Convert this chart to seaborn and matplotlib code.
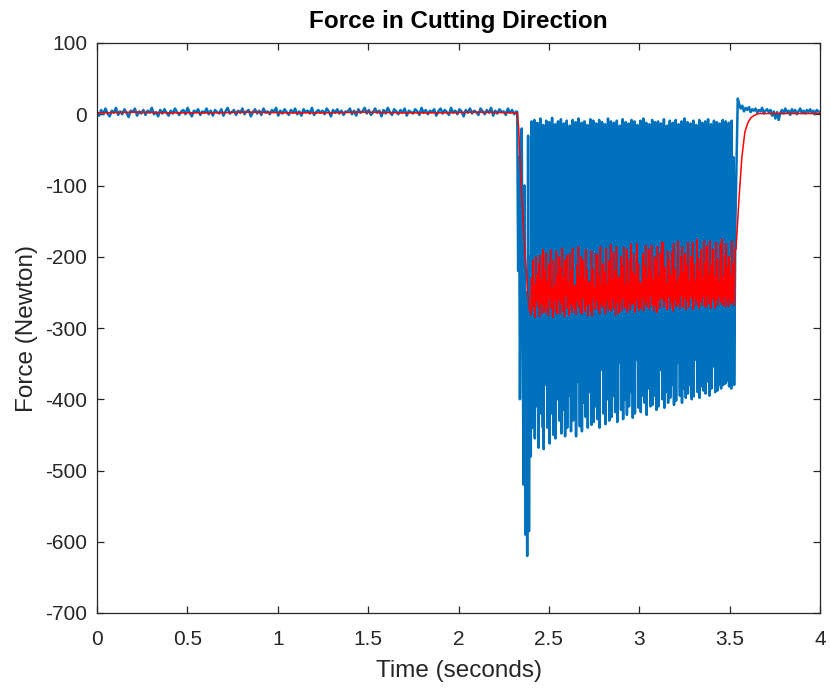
import numpy as np
import pandas as pd
import matplotlib
matplotlib.use("Agg")
import matplotlib.pyplot as plt
import seaborn as sns

# ---- measured force signal (Newton) ----
# idle phase before the cut, 0 s .. 2.32 s
raw_idle = [
    3, -2, 6, 0, 8, 1, -3, 5, 2, 9, -1, 4, 0, 7, 2, -4, 5, 3, 8, -2,
    4, 1, 6, -1, 5, 2, 9, 0, 3, -3, 6, 1, 7, 2, -2, 5, 1, 8, 3, -1,
    4, 6, 0, 9, 2, -3, 5, 3, 7, -1, 4, 2, 8, 0, 5, -2, 6, 3, 1, 7,
    -2, 4, 9, 1, 3, 6, -1, 5, 2, 8, 0, 4, 6, -3, 3, 7, 1, 5, -1, 8,
    2, 4, 0, 6, 3, 9, -2, 5, 1, 7, 3, -1, 6, 2, 8, 0, 4, -2, 7, 3,
    5, 1, 9, -1, 3, 6, 2, 5, 0, 8, 4, -3, 6, 2, 7, 1, 5, -1, 4, 3,
    8, 0, 5, -2, 7, 2, 4, 9, 1, 6, -1, 3, 8, 2, 5, -3, 6, 1, 9, 3,
    -1, 7, 4, 0, 6, 2, 8, -2, 5, 3, 1, 7, 4, -1, 9, 2, 6, 0, 5, 3,
    7, -2, 4, 8, 1, 6, 3, -1, 9, 2, 5, 0, 7, 4, -3, 6, 2, 8, 1, 5,
    3, -1, 8, 4, 0, 6, 2, 9, -2, 5, 1, 7, 3, 4, -1, 8, 2, 6, 0, 4,
]
# tool entry, 2.325 s .. 2.415 s
raw_entry = [3, -220, -60, -400, -150, -20, -300, -520, -100, -590,
             -250, -620, -30, -585, -200, -480, -10, -440, -300]
# steady cutting, one row per tooth pass: (top, low, mid, low, mid, low)
raw_cycles = [
    (-8, -455, -230, -330, -250, -410), (-12, -350, -260, -468, -215, -320),
    (-6, -420, -200, -310, -240, -440), (-15, -470, -250, -340, -205, -380),
    (-9, -330, -210, -440, -265, -360), (-11, -462, -270, -300, -225, -420),
    (-5, -380, -220, -450, -245, -330), (-14, -455, -240, -320, -195, -400),
    (-10, -340, -195, -430, -255, -350), (-7, -448, -265, -360, -210, -415),
    (-13, -310, -215, -452, -240, -335), (-9, -440, -250, -330, -200, -395),
    (-16, -360, -205, -445, -260, -320), (-8, -430, -275, -300, -220, -410),
    (-11, -452, -225, -350, -245, -375), (-6, -320, -245, -438, -205, -340),
    (-12, -445, -200, -370, -255, -405), (-10, -335, -260, -425, -215, -310),
    (-15, -440, -230, -310, -240, -390), (-7, -350, -215, -436, -265, -345),
    (-9, -432, -270, -340, -200, -410), (-13, -300, -205, -428, -235, -365),
    (-8, -440, -250, -360, -215, -320), (-11, -330, -235, -420, -260, -385),
    (-14, -435, -210, -315, -225, -400), (-6, -365, -265, -430, -205, -335),
    (-10, -425, -220, -340, -250, -395), (-12, -310, -245, -418, -210, -350),
    (-9, -432, -200, -350, -240, -310), (-16, -340, -255, -415, -220, -380),
    (-7, -428, -230, -305, -260, -400), (-11, -360, -210, -422, -235, -330),
    (-13, -410, -270, -330, -205, -390), (-8, -325, -225, -426, -250, -355),
    (-10, -420, -250, -345, -215, -305), (-15, -300, -205, -412, -245, -370),
    (-9, -418, -240, -355, -200, -395), (-6, -335, -260, -405, -230, -320),
    (-12, -422, -215, -320, -255, -385), (-14, -350, -235, -410, -210, -340),
    (-8, -408, -270, -340, -240, -395), (-11, -315, -200, -415, -225, -350),
    (-10, -410, -250, -360, -205, -315), (-13, -330, -225, -400, -260, -375),
    (-7, -412, -245, -310, -215, -390), (-16, -345, -210, -405, -245, -330),
    (-9, -398, -265, -335, -200, -380), (-12, -320, -230, -408, -250, -345),
    (-8, -402, -205, -350, -235, -310), (-14, -340, -255, -395, -210, -372),
    (-10, -405, -220, -315, -245, -385), (-6, -355, -240, -398, -205, -335),
    (-11, -392, -200, -330, -260, -380), (-13, -310, -260, -400, -220, -350),
    (-9, -396, -235, -345, -200, -315), (-15, -335, -215, -390, -250, -370),
    (-8, -398, -250, -320, -225, -382), (-12, -350, -225, -388, -205, -330),
    (-10, -392, -205, -340, -245, -375), (-7, -320, -245, -395, -215, -350),
    (-14, -385, -230, -355, -200, -310), (-9, -340, -210, -390, -240, -372),
    (-11, -388, -255, -330, -220, -380), (-13, -345, -220, -385, -250, -335),
    (-8, -380, -240, -360, -205, -378), (-10, -375, -230, -370, -235, -345),
    (-12, -382, -215, -340, -250, -385), (-9, -360, -245, -378, -210, -380),
]
# secondary rebound within each tooth pass
raw_rebound = [
    -60, -120, -35, -90, -140, -50, -110, -70, -30, -130, -80, -45,
    -100, -60, -125, -40, -95, -150, -55, -75, -115, -35, -85, -135,
    -65, -45, -105, -70, -140, -50, -90, -30, -120, -60, -80, -110,
    -40, -145, -70, -55, -100, -35, -125, -85, -60, -115, -45, -95,
    -130, -50, -75, -105, -40, -140, -65, -90, -35, -120, -55, -80,
    -110, -45, -135, -70, -95, -50, -125, -60,
]
# tool exit, 3.532 s .. 3.545 s
raw_exit = [-150, 22]
# idle phase after the cut, 3.55 s .. 4.0 s
raw_after = [15, 8, 12, 4, 9, 6, 10, 3, 7, 5, 8, 2, 6, 4, 9, 1, 5, 7, 3, 6,
             -2, 4, -6, 3, -8, 2, 6, 1, 8, 3, 5, -1, 7, 3, 6, 0, 4, 8, 2, 5,
             1, 6, 3, 7, 2, 5, 0, 6, 4, 3]

# ---- filtered force (Newton) ----
filt_idle = [2, 3, 2, 2, 3, 2, 2, 3, 2, 2, 3, 2]
filt_entry = [2, -20, -70, -110, -150, -185, -215, -245, -270]
filt_cut = [
    -282, -230, -275, -205, -268, -240, -285, -200, -262, -225,
    -270, -210, -284, -198, -265, -232, -279, -190, -268, -220,
    -278, -195, -270, -235, -283, -210, -258, -190, -272, -245,
    -285, -205, -262, -240, -276, -192, -280, -226, -260, -200,
    -280, -215, -265, -188, -276, -230, -284, -205, -255, -198,
    -272, -236, -282, -196, -266, -220, -278, -188, -270, -242,
    -274, -240, -281, -212, -262, -186, -270, -228, -279, -200,
    -280, -205, -258, -232, -276, -190, -268, -218, -283, -236,
    -266, -235, -277, -192, -283, -218, -258, -244, -273, -196,
    -262, -198, -274, -226, -280, -186, -266, -240, -271, -210,
    -268, -222, -280, -188, -261, -238, -275, -206, -270, -183,
    -276, -232, -259, -194, -272, -220, -282, -186, -264, -228,
    -279, -230, -264, -200, -276, -214, -258, -187, -272, -240,
    -270, -190, -278, -236, -262, -204, -274, -182, -266, -222,
    -266, -196, -278, -226, -260, -182, -270, -210, -275, -236,
    -272, -238, -258, -196, -276, -214, -264, -184, -270, -230,
    -262, -190, -273, -220, -255, -184, -268, -232, -276, -200,
    -268, -206, -278, -186, -260, -228, -272, -196, -258, -180,
    -259, -180, -270, -215, -262, -238, -274, -192, -256, -205,
    -272, -226, -264, -194, -276, -182, -260, -218, -270, -236,
    -268, -178, -265, -228, -272, -200, -255, -186, -270, -222,
    -258, -196, -274, -212, -262, -180, -270, -234, -256, -200,
    -260, -180, -274, -210, -258, -235, -268, -176, -262, -202,
    -272, -220, -262, -190, -268, -230, -256, -178, -270, -208,
    -270, -185, -255, -225, -266, -178, -272, -212, -258, -190,
    -262, -228, -272, -180, -260, -204, -268, -236, -256, -182,
    -264, -175, -268, -230, -256, -198, -270, -182, -262, -215,
    -270, -200, -258, -226, -266, -178, -262, -210, -268, -190,
]
filt_exit = [-190, -120, -60, -25, -12, -5, -2, 0]
filt_after = [1, 1, 1, 1, 1, 1, 1, 1]

# time spans (s) of each recorded phase
raw_spans = [(0.0, 2.32), (2.325, 2.415), (2.42, 3.525),
             (3.532, 3.545), (3.552, 4.0)]
filt_spans = [(0.0, 2.32), (2.325, 2.39), (2.40, 3.53),
              (3.535, 3.65), (3.66, 4.0)]


def build(parts, spans):
    t, v = [], []
    for vals, (a, b) in zip(parts, spans):
        t.append(np.linspace(a, b, len(vals)))
        v.append(np.asarray(vals, dtype=float))
    return np.concatenate(t), np.concatenate(v)


# each tooth pass: top, low, mid, low, rebound, mid, low
cut_vals = []
for c, r in zip(raw_cycles, raw_rebound):
    cut_vals.extend(c[:4] + (r,) + c[4:])

t_raw, f_raw = build([raw_idle, raw_entry, cut_vals, raw_exit, raw_after],
                     raw_spans)
t_filt, f_filt = build([filt_idle, filt_entry, filt_cut, filt_exit, filt_after],
                       filt_spans)

raw_df = pd.DataFrame({"time": t_raw, "force": f_raw})
filt_df = pd.DataFrame({"time": t_filt, "force": f_filt})

sns.set_theme(style="white")
plt.rcParams["font.family"] = ["Liberation Sans", "DejaVu Sans"]
plt.rcParams["axes.unicode_minus"] = False

fig = plt.figure(figsize=(8.3, 6.92), dpi=100)
ax = fig.add_axes([97 / 830, 1 - 613 / 692, 723 / 830, 570 / 692])

sns.lineplot(data=raw_df, x="time", y="force", estimator=None, sort=False,
             color="#0072BD", linewidth=1.8, ax=ax)
sns.lineplot(data=filt_df, x="time", y="force", estimator=None, sort=False,
             color="#FF0000", linewidth=1.1, ax=ax)

ax.set_xlim(0, 4)
ax.set_ylim(-700, 100)
ax.set_xticks(np.arange(0, 4.01, 0.5))
ax.set_xticklabels(["0", "0.5", "1", "1.5", "2", "2.5", "3", "3.5", "4"])
ax.set_yticks(np.arange(-700, 101, 100))
ax.tick_params(direction="in", length=5, width=0.9, colors="#262626",
               labelsize=15, top=True, right=True, bottom=True, left=True,
               labelcolor="#262626")
ax.tick_params(axis="x", pad=12)
ax.tick_params(axis="y", pad=7)
for s in ax.spines.values():
    s.set_visible(True)
    s.set_color("#262626")
    s.set_linewidth(0.9)

ax.set_xlabel("Time (seconds)", fontsize=17.5, color="#262626", labelpad=8)
ax.set_ylabel("Force (Newton)", fontsize=17.5, color="#262626", labelpad=5)
ax.set_title("Force in Cutting Direction", fontsize=17.5, fontweight="bold",
             color="#000000", pad=11)

fig.savefig("out.png", dpi=100)
